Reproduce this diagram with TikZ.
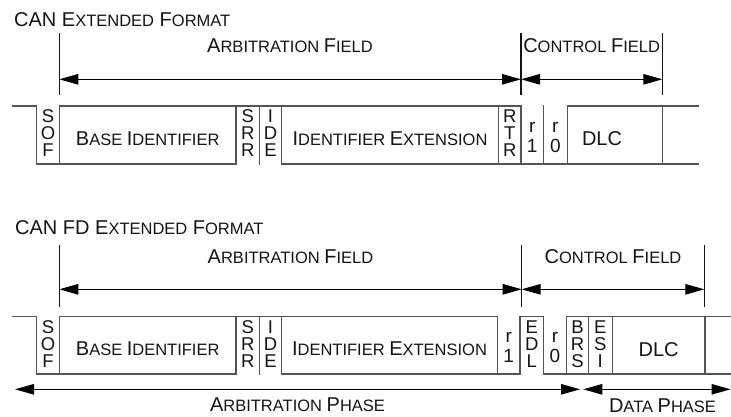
\documentclass[tikz,border=0pt]{standalone}
\usepackage{fontspec}
\setmainfont{Liberation Sans}
\usetikzlibrary{arrows.meta}
\definecolor{framegray}{rgb}{0.33,0.33,0.33}
\definecolor{inkc}{rgb}{0.08,0.08,0.08}
\newcommand\Sm[1]{{\fontsize{16.5}{17}\selectfont #1}}
\newcommand\Bg[1]{{\fontsize{20}{21}\selectfont #1}}
\begin{document}
\begin{tikzpicture}[x=1pt,y=-1pt,
  frame/.style={draw=framegray,line width=1.5pt,line cap=rect},
  marker/.style={draw=inkc,line width=1.2pt},
  arr/.style={draw=black,line width=1pt,
    {Triangle[length=19pt,width=10.5pt]}-{Triangle[length=19pt,width=10.5pt]}},
  lbl/.style={inner sep=0pt,anchor=base,text=inkc,font=\fontsize{20}{21}\selectfont},
  stackcell/.style={inner sep=0pt,anchor=north,align=center,text=inkc,
    font=\fontsize{18.5}{17}\selectfont},
  rcell/.style={inner sep=0pt,anchor=north,align=center,text=inkc,
    font=\fontsize{19}{20}\selectfont}]
\useasboundingbox (0,0) rectangle (731,416);

% ================= CAN extended format =================
\node[lbl,anchor=base west] (title1) at (14,26) {\Bg{CAN} \Bg{E}\Sm{XTENDED} \Bg{F}\Sm{ORMAT}};

\coordinate (tA) at (59.3,79.3);
\coordinate (tB) at (521,79.3);
\coordinate (tC) at (662.3,79.3);
\foreach \c in {tA,tB,tC}{\draw[marker] (\c |- 0,33) -- (\c |- 0,95);}
\draw[arr] (tA) -- (tB);
\draw[arr] (tB) -- (tC);
\node[lbl] (arbf1) at (290,52.5) {\Bg{A}\Sm{RBITRATION }\Bg{F}\Sm{IELD}};
\node[lbl] (ctlf1) at (591.6,52.5) {\Bg{C}\Sm{ONTROL }\Bg{F}\Sm{IELD}};

% frame
\draw[frame] (13,106) -- (36.7,106);
\draw[frame] (59.3,106) -- (521,106);
\draw[frame] (567.3,106) -- (698.3,106);
\draw[frame] (36.7,164) -- (236,164);
\draw[frame] (281.7,164) -- (698.3,164);
\foreach \x in {36.7,59.3,236,259.3,281.7,498.3,521,543.3,567.3,662.3}
  {\draw[frame] (\x,106) -- (\x,164);}

\node[stackcell] (sof1) at (48,109.7) {S\\O\\F};
\node[lbl] (base1) at (147.7,145) {\Bg{B}\Sm{ASE }\Bg{I}\Sm{DENTIFIER}};
\node[stackcell] (srr1) at (247.7,109.7) {S\\R\\R};
\node[stackcell] (ide1) at (270.5,109.7) {I\\D\\E};
\node[lbl] (idext1) at (390,145) {\Bg{I}\Sm{DENTIFIER }\Bg{E}\Sm{XTENSION}};
\node[stackcell] (rtr1) at (509.7,109.7) {R\\T\\R};
\node[rcell] (rone1) at (532.2,121.7) {r\\1};
\node[rcell] (rzero1) at (555.3,121.7) {r\\0};
\node[lbl] (dlc1) at (602,145.5) {DLC};

% ================= CAN FD extended format =================
\node[lbl,anchor=base west] (title2) at (15,234.3) {\Bg{CAN FD} \Bg{E}\Sm{XTENDED} \Bg{F}\Sm{ORMAT}};

\coordinate (bA) at (59.3,289.3);
\coordinate (bB) at (521.7,289.3);
\coordinate (bC) at (704.3,289.3);
\foreach \c in {bA,bB,bC}{\draw[marker] (\c |- 0,245) -- (\c |- 0,307);}
\draw[arr] (bA) -- (bB);
\draw[arr] (bB) -- (bC);
\node[lbl] (arbf2) at (290.5,263.3) {\Bg{A}\Sm{RBITRATION }\Bg{F}\Sm{IELD}};
\node[lbl] (ctlf2) at (613,263.3) {\Bg{C}\Sm{ONTROL }\Bg{F}\Sm{IELD}};

% frame
\draw[frame] (13,316.7) -- (36.7,316.7);
\draw[frame] (59.3,316.7) -- (497.3,316.7);
\draw[frame] (520,316.7) -- (543.3,316.7);
\draw[frame] (566.7,316.7) -- (731,316.7);
\draw[frame] (36.7,374) -- (236,374);
\draw[frame] (281.7,374) -- (520,374);
\draw[frame] (543.3,374) -- (731,374);
\foreach \x in {36.7,59.3,236,259.3,281.7,497.3,520,543.3,566.7,588.3,612.3,705}
  {\draw[frame] (\x,316.7) -- (\x,374);}

\node[stackcell] (sof2) at (48,320.4) {S\\O\\F};
\node[lbl] (base2) at (147.7,355) {\Bg{B}\Sm{ASE }\Bg{I}\Sm{DENTIFIER}};
\node[stackcell] (srr2) at (247.7,320.4) {S\\R\\R};
\node[stackcell] (ide2) at (270.5,320.4) {I\\D\\E};
\node[lbl] (idext2) at (389.5,355) {\Bg{I}\Sm{DENTIFIER }\Bg{E}\Sm{XTENSION}};
\node[rcell] (rone2) at (508.7,332.4) {r\\1};
\node[stackcell] (edl2) at (531.7,320.4) {E\\D\\L};
\node[rcell] (rzero2) at (555,332.4) {r\\0};
\node[stackcell] (brs2) at (577.5,320.4) {B\\R\\S};
\node[stackcell] (esi2) at (600.3,320.4) {E\\S\\I};
\node[lbl] (dlc2) at (658.6,356) {DLC};

% phases
\coordinate (pA) at (15,389.3);
\coordinate (pB) at (580,389.3);
\coordinate (pC) at (583.3,389.3);
\coordinate (pD) at (730.5,389.3);
\draw[arr] (pA) -- (pB);
\draw[arr] (pC) -- (pD);
\node[lbl] (arbph) at (297.5,411.7) {\Bg{A}\Sm{RBITRATION }\Bg{P}\Sm{HASE}};
\node[lbl] (dataph) at (662.5,412) {\Bg{D}\Sm{ATA }\Bg{P}\Sm{HASE}};
\end{tikzpicture}
\end{document}
